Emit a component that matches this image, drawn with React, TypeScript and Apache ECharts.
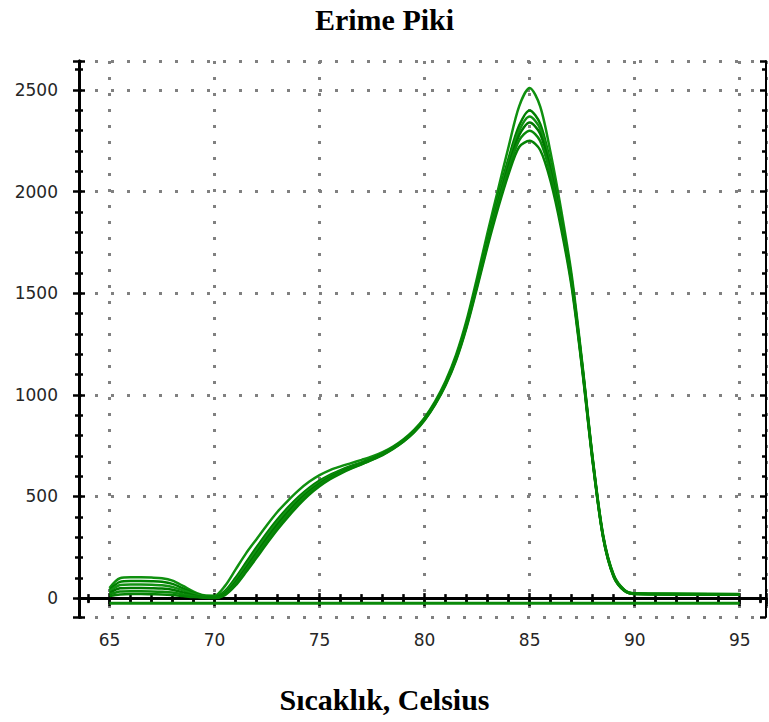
import React, { useEffect, useRef } from 'react';
import * as echarts from 'echarts';

const chartTitle = 'Erime Piki';
const xAxisTitle = 'Sıcaklık, Celsius';

const temperatures = [
  65, 65.5, 66, 66.5, 67, 67.5, 68, 68.5, 69, 69.5, 70,
  70.5, 71, 71.5, 72, 72.5, 73, 73.5, 74, 74.5, 75,
  75.5, 76, 76.5, 77, 77.5, 78, 78.5, 79, 79.5, 80,
  80.5, 81, 81.5, 82, 82.5, 83, 83.5, 84, 84.5, 85,
  85.5, 86, 86.5, 87, 87.5, 88, 88.5, 89, 89.5, 90,
  92.5, 95,
];

const curveA = [
  50, 98, 102, 102, 101, 98, 86, 60, 32, 14, 12,
  60, 140, 220, 290, 360, 425, 480, 530, 572, 605,
  630, 648, 664, 680, 697, 718, 746, 782, 828, 888,
  968, 1068, 1198, 1368, 1578, 1800, 2012, 2222, 2420, 2510,
  2420, 2190, 1910, 1590, 1160, 690, 310, 115, 42, 24,
  22, 20,
];
const curveB = [
  40, 80, 84, 84, 83, 80, 70, 48, 25, 10, 6,
  35, 100, 175, 250, 322, 388, 446, 498, 542, 578,
  607, 630, 650, 668, 688, 712, 742, 778, 824, 884,
  962, 1060, 1188, 1355, 1560, 1775, 1978, 2165, 2325, 2400,
  2335, 2140, 1880, 1570, 1150, 685, 305, 112, 40, 22,
  20, 18,
];
const curveC = [
  32, 64, 67, 67, 66, 63, 55, 38, 20, 8, 4,
  28, 88, 160, 235, 308, 375, 435, 488, 533, 570,
  600, 625, 646, 665, 686, 710, 740, 776, 822, 882,
  960, 1057, 1184, 1350, 1552, 1764, 1962, 2145, 2300, 2370,
  2310, 2122, 1868, 1562, 1146, 682, 302, 110, 40, 22,
  20, 18,
];
const curveD = [
  25, 48, 50, 50, 49, 47, 41, 28, 14, 5, 3,
  22, 78, 148, 222, 295, 362, 423, 478, 525, 563,
  595, 621, 643, 663, 684, 708, 738, 774, 820, 880,
  958, 1055, 1180, 1345, 1545, 1755, 1950, 2128, 2278, 2340,
  2285, 2105, 1856, 1555, 1140, 678, 300, 108, 38, 21,
  19, 17,
];
const curveE = [
  18, 32, 34, 34, 33, 31, 27, 18, 9, 3, 2,
  18, 70, 138, 210, 282, 350, 412, 468, 517, 557,
  590, 617, 640, 660, 682, 706, 736, 772, 818, 878,
  955, 1052, 1176, 1340, 1538, 1745, 1938, 2110, 2252, 2300,
  2250, 2082, 1840, 1545, 1134, 674, 298, 106, 37, 20,
  18, 16,
];
const curveF = [
  10, 18, 20, 20, 19, 18, 15, 10, 5, 2, 1,
  15, 62, 128, 198, 270, 338, 400, 457, 508, 550,
  585, 613, 637, 658, 680, 704, 734, 770, 815, 875,
  952, 1048, 1170, 1332, 1528, 1732, 1920, 2088, 2220, 2250,
  2205, 2050, 1818, 1530, 1126, 670, 296, 104, 36, 20,
  18, 16,
];

const baselineTemps = [65, 95];
const baselineValues = [-25, -25];

const curves = [curveA, curveB, curveC, curveD, curveE, curveF];
const curveColors = ['#0f900f', '#008000', '#129212', '#007800', '#0a8a0a', '#058205'];

const X_MIN = 63.55;
const X_MAX = 96.25;
const Y_MIN = -93;
const Y_MAX = 2643;

export default function App() {
  const ref = useRef<HTMLDivElement>(null);

  useEffect(() => {
    if (!ref.current) return;
    const chart = echarts.init(ref.current, null, { renderer: 'svg' });

    const labelFont = { fontFamily: '"DejaVu Sans", Verdana, sans-serif', fontSize: 17, color: '#262626' };
    const blackLine = { color: '#000', width: 3 };
    const plain = (v: number) => String(v);

    const hiddenBase = {
      type: 'value',
      min: X_MIN,
      max: X_MAX,
      axisLabel: { show: false },
      splitLine: { show: false },
    };

    const series: any[] = curves.map((c, k) => ({
      type: 'line',
      xAxisIndex: 0,
      yAxisIndex: 0,
      data: temperatures.map((t, i) => [t, c[i]]),
      showSymbol: false,
      smooth: 0.3,
      lineStyle: { color: curveColors[k], width: 2.5 },
      z: 3,
    }));
    series.push({
      type: 'line',
      xAxisIndex: 0,
      yAxisIndex: 0,
      data: baselineTemps.map((t, i) => [t, baselineValues[i]]),
      showSymbol: false,
      lineStyle: { color: '#0a8a0a', width: 3 },
      z: 3,
    });

    chart.setOption({
      animation: false,
      backgroundColor: '#fff',
      grid: { left: 79, right: 3, top: 61, bottom: 105, containLabel: false },
      graphic: [
        {
          type: 'text',
          left: 'center',
          top: 4,
          style: { text: chartTitle, font: 'bold 30px "Liberation Serif", "Times New Roman", serif', fill: '#000' },
        },
        {
          type: 'text',
          left: 'center',
          top: 684,
          style: { text: xAxisTitle, font: 'bold 30px "Liberation Serif", "Times New Roman", serif', fill: '#000' },
        },
      ],
      xAxis: [
        {
          type: 'value',
          position: 'bottom',
          min: X_MIN,
          max: X_MAX,
          axisLine: { lineStyle: blackLine },
          axisTick: { show: true, inside: false, length: 8, lineStyle: { color: '#000', width: 2.5 } },
          minorTick: { show: true, splitNumber: 5, length: 5, lineStyle: { color: '#000', width: 2.5 } },
          axisLabel: { ...labelFont, margin: 14, showMinLabel: false, showMaxLabel: false, formatter: plain },
          splitLine: { show: true, lineStyle: { color: '#808080', width: 3, type: [3, 13] } },
        },
        {
          ...hiddenBase,
          position: 'bottom',
          axisLine: { lineStyle: blackLine },
          axisTick: { show: true, inside: true, length: 5, lineStyle: { color: '#000', width: 2.5 } },
          minorTick: { show: true, splitNumber: 5, length: 4, lineStyle: { color: '#000', width: 2.5 } },
        },
        {
          ...hiddenBase,
          position: 'top',
          axisLine: { lineStyle: { color: '#000', width: 2 } },
          axisTick: { show: true, inside: true, length: 6, lineStyle: { color: '#000', width: 2.5 } },
          minorTick: { show: true, splitNumber: 5, length: 4, lineStyle: { color: '#000', width: 2.5 } },
        },
      ],
      yAxis: [
        {
          type: 'value',
          position: 'left',
          min: Y_MIN,
          max: Y_MAX,
          axisLine: { show: true, lineStyle: blackLine },
          axisTick: { show: true, inside: false, length: 6, lineStyle: { color: '#000', width: 2.5 } },
          minorTick: { show: true, splitNumber: 5, length: 4, lineStyle: { color: '#000', width: 2.5 } },
          axisLabel: { ...labelFont, margin: 21, showMinLabel: false, showMaxLabel: false, formatter: plain },
          splitLine: { show: true, lineStyle: { color: '#808080', width: 3, type: [3, 13] } },
        },
        {
          type: 'value',
          position: 'left',
          min: Y_MIN,
          max: Y_MAX,
          axisLabel: { show: false },
          splitLine: { show: false },
          axisLine: { show: true, lineStyle: blackLine },
          axisTick: { show: true, inside: true, length: 6, lineStyle: { color: '#000', width: 2.5 } },
          minorTick: { show: true, splitNumber: 5, length: 4, lineStyle: { color: '#000', width: 2.5 } },
        },
        {
          type: 'value',
          position: 'right',
          min: Y_MIN,
          max: Y_MAX,
          axisLabel: { show: false },
          splitLine: { show: false },
          axisLine: { show: true, lineStyle: { color: '#000', width: 2 } },
          axisTick: { show: true, inside: true, length: 6, lineStyle: { color: '#000', width: 2.5 } },
          minorTick: { show: true, splitNumber: 5, length: 4, lineStyle: { color: '#000', width: 2.5 } },
        },
      ],
      series,
    });

    return () => chart.dispose();
  }, []);

  return (
    <div
      ref={ref}
      style={{ position: 'absolute', left: 0, top: 0, width: 769, height: 722, background: '#fff' }}
    />
  );
}
